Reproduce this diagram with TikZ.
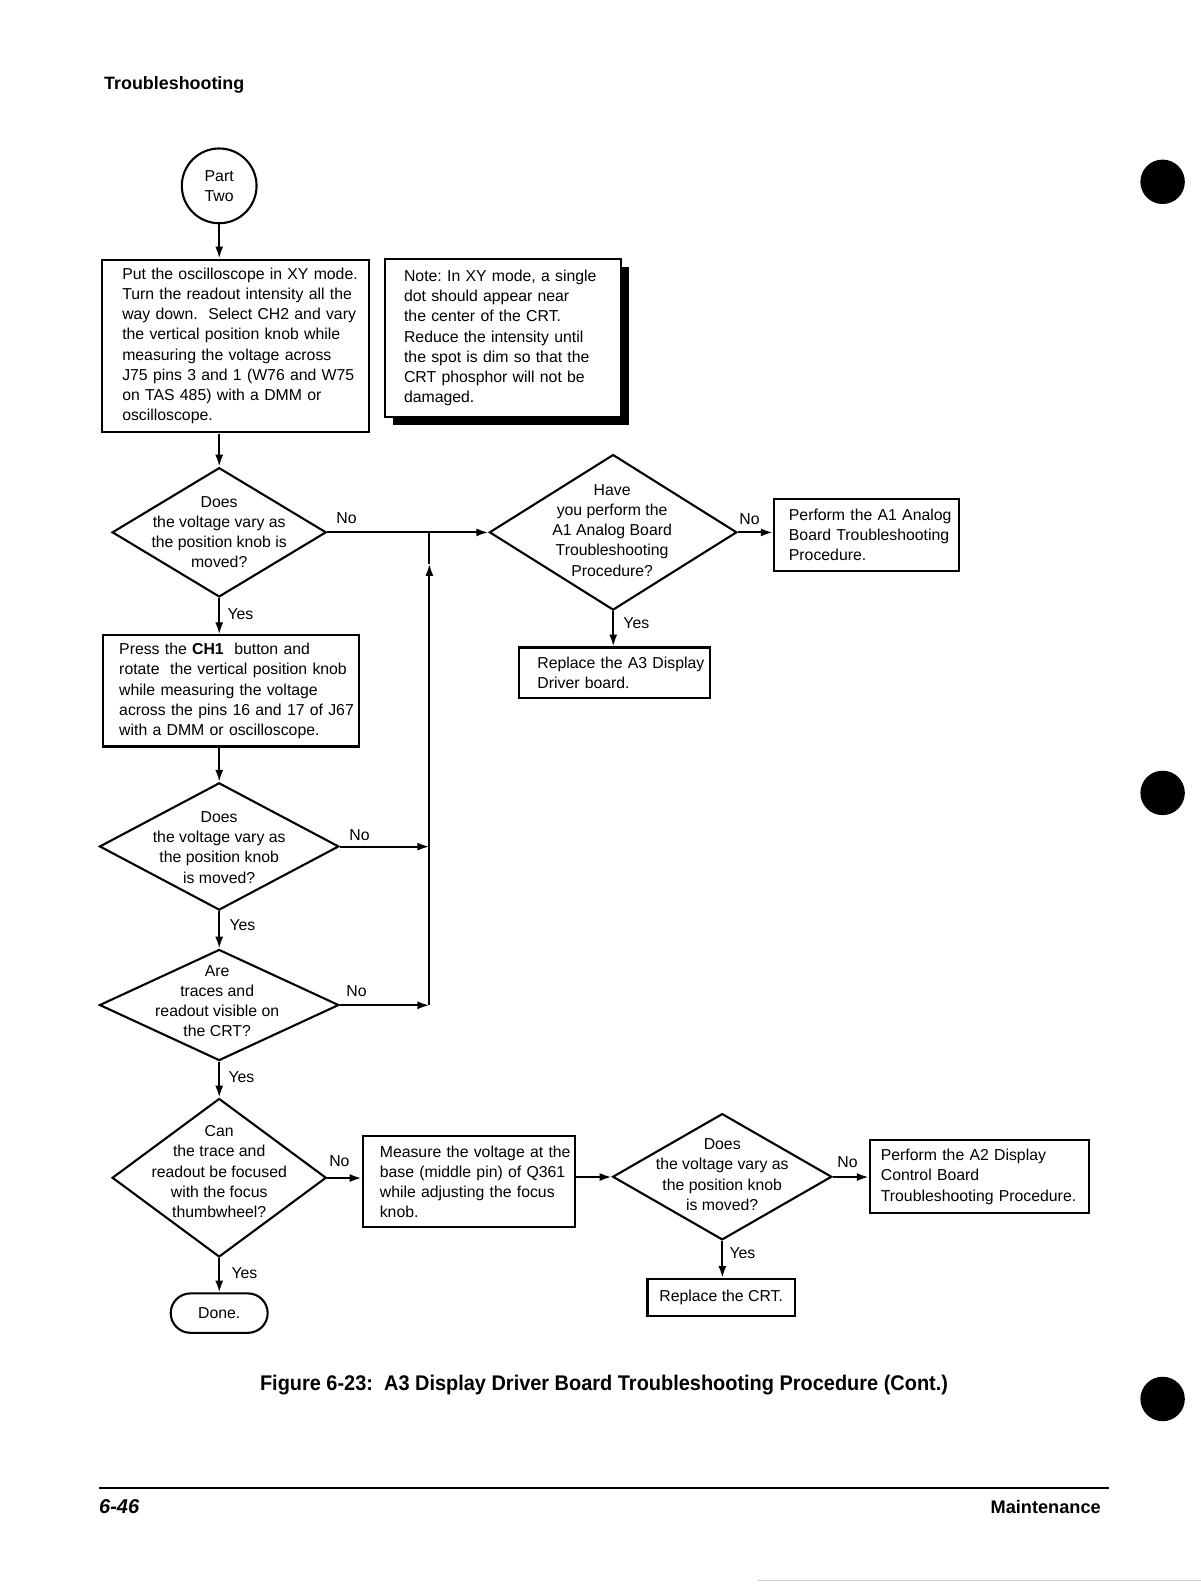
\documentclass[tikz,border=0pt]{standalone}
\usepackage{fontspec}
\setmainfont{Liberation Sans}
\usepackage{graphicx}
\usetikzlibrary{arrows.meta,shapes.geometric,shapes.misc,shadows}
\newcommand\fs{\fontsize{15.65}{20}\selectfont}
\newcommand\lne[1]{\mbox{#1}}
\frenchspacing
\hbadness=10000 \hfuzz=100pt
\begin{document}
\begin{tikzpicture}[x=1pt,y=-1pt,scale=1.0101,
  every node/.style={font=\fs, transform shape},
  ln/.style={line width=2.1pt},
  arr/.style={line width=2.1pt, -{Latex[length=12pt,width=8pt]}},
  box/.style={draw, line width=2.1pt, rectangle, align=left, inner ysep=0pt, anchor=north west},
  dia/.style={draw, line width=2.1pt, diamond, inner sep=0pt},
  dtxt/.style={align=center, inner sep=0pt},
  lbl/.style={inner sep=0pt}]
\useasboundingbox (0,0) rectangle (1189,1568.2);
% page furniture
\node[anchor=west, inner sep=0pt, font=\bfseries\fontsize{17.7}{20}\selectfont] (title) at (103,84) {Troubleshooting};
\fill (1151,180) circle (22pt);
\fill (1151,785) circle (22pt);
\fill (1151,1385) circle (22pt);
\node[inner sep=0pt, font=\bfseries\fontsize{21}{24}\selectfont] (cap) at (598,1371) {\scalebox{0.94}[1]{Figure 6-23:\ \ A3 Display Driver Board Troubleshooting Procedure (Cont.)}};
\draw[line width=2pt] (98,1473) -- (1098,1473);
\node[anchor=west, inner sep=0pt, font=\bfseries\itshape\fontsize{19.8}{22}\selectfont] (pg) at (98,1492) {6-46};
\node[anchor=east, inner sep=0pt, font=\bfseries\fontsize{18}{20}\selectfont] (mt) at (1090,1492) {Maintenance};
\draw[gray!40, line width=0.8pt] (750,1565) -- (1189,1565);

% nodes
\node[draw, circle, line width=2.1pt, minimum size=74pt, align=center, inner sep=0pt] (c0) at (217,184) {Part\\Two};
\node[box, text width=224pt, inner xsep=20pt, minimum height=171pt] (b1) at (100,256)
 {\lne{Put the oscilloscope in XY mode.}\\\lne{Turn the readout intensity all the}\\\lne{way down.\ \ Select CH2 and vary}\\\lne{the vertical position knob while}\\\lne{measuring the voltage across}\\\lne{J75 pins 3 and 1 (W76 and W75}\\\lne{on TAS 485) with a DMM or}\\\lne{oscilloscope.}};
\node[box, fill=white, text width=196pt, inner xsep=19pt, minimum height=157pt,
  drop shadow={shadow xshift=8pt, shadow yshift=-8pt, fill=black, opacity=1}] (note) at (380,255)
 {\lne{Note: In XY mode, a single}\\\lne{dot should appear near}\\\lne{the center of the CRT.}\\\lne{Reduce the intensity until}\\\lne{the spot is dim so that the}\\\lne{CRT phosphor will not be}\\\lne{damaged.}};

\node[dia, minimum width=212pt, minimum height=128pt] (d1) at (217,527) {};
\node[dtxt] (d1t) at (217,527) {Does\\the voltage vary as\\the position knob is\\moved?};

\node[dia, minimum width=245pt, minimum height=154pt] (d2) at (607,527) {};
\node[dtxt] (d2t) at (606,525) {Have\\you perform the\\A1 Analog Board\\Troubleshooting\\Procedure?};

\node[box, text width=153pt, inner xsep=15pt, minimum height=71pt] (a1) at (765,493)
 {\lne{Perform the A1 Analog}\\\lne{Board Troubleshooting}\\\lne{Procedure.}};
\node[box, text width=153pt, inner xsep=18pt, minimum height=50pt] (r3) at (513,640)
 {\lne{Replace the A3 Display}\\\lne{Driver board.}};

\node[box, text width=221pt, inner xsep=16pt, minimum height=110pt] (b2) at (101,628)
 {\lne{Press the \textbf{CH1}\ \ button and}\\\lne{rotate\ \ the vertical position knob}\\\lne{while measuring the voltage}\\\lne{across the pins 16 and 17 of J67}\\\lne{with a DMM or oscilloscope.}};

\node[dia, minimum width=237pt, minimum height=126pt] (d3) at (217,838) {};
\node[dtxt] (d3t) at (217,839) {Does\\the voltage vary as\\the position knob\\is moved?};

\node[dia, minimum width=237pt, minimum height=110pt] (d4) at (217,995) {};
\node[dtxt] (d4t) at (215,991) {Are\\traces and\\readout visible on\\the CRT?};

\node[dia, minimum width=212pt, minimum height=157pt] (d5) at (217,1166) {};
\node[dtxt] (d5t) at (217,1160) {Can\\the trace and\\readout be focused\\with the focus\\thumbwheel?};

\node[box, text width=176pt, inner xsep=17pt, minimum height=90pt] (m) at (358,1124)
 {\lne{Measure the voltage at the}\\\lne{base (middle pin) of Q361}\\\lne{while adjusting the focus}\\\lne{knob.}};

\node[dia, minimum width=217pt, minimum height=125pt] (d6) at (715,1165) {};
\node[dtxt] (d6t) at (715,1163) {Does\\the voltage vary as\\the position knob\\is moved?};

\node[box, text width=195pt, inner xsep=11pt, minimum height=72pt] (a2) at (860,1128)
 {\lne{Perform the A2 Display}\\\lne{Control Board}\\\lne{Troubleshooting Procedure.}};
\node[box, align=center, inner xsep=0pt, minimum width=146pt, minimum height=37pt] (crt) at (640,1265) {Replace the CRT.};

\node[draw, rounded rectangle, line width=2.1pt, minimum width=96pt, minimum height=39pt, inner sep=0pt] (done) at (217,1300) {Done.};

% junction points
\coordinate (jt) at (425,527);
\coordinate (ja) at (425,558);
\coordinate (j3) at (425,838);
\coordinate (jb) at (425,995);

% labels
\node[lbl] (l1) at (343,513) {No};
\node[lbl] (l2) at (742,514) {No};
\node[lbl] (l3) at (630,617) {Yes};
\node[lbl] (l4) at (238,608) {Yes};
\node[lbl] (l5) at (356,827) {No};
\node[lbl] (l6) at (240,916) {Yes};
\node[lbl] (l7) at (353,981) {No};
\node[lbl] (l8) at (239,1066) {Yes};
\node[lbl] (l9) at (336,1150) {No};
\node[lbl] (l10) at (839,1151) {No};
\node[lbl] (l11) at (735,1241) {Yes};
\node[lbl] (l12) at (242,1260) {Yes};

% connectors
\draw[arr] (c0.south) -- (c0.south |- b1.north);
\draw[arr] (d1.north |- b1.south) -- (d1.north);
\draw[arr] (d1.east) -- (d2.west);
\draw[arr] (d2.east) -- (d2.east -| a1.west);
\draw[arr] (d2.south) -- (d2.south |- r3.north);
\draw[arr] (d1.south) -- (d1.south |- b2.north);
\draw[arr] (d3.north |- b2.south) -- (d3.north);
\draw[arr] (d3.east) -- (j3);
\draw[arr] (d3.south) -- (d4.north);
\draw[arr] (d4.east) -- (jb);
\draw[arr] (jb) -- (ja);
\draw[ln] (ja) -- (jt);
\draw[arr] (d4.south) -- (d5.north);
\draw[arr] (d5.east) -- (d5.east -| m.west);
\draw[arr] (d6.west -| m.east) -- (d6.west);
\draw[arr] (d6.east) -- (d6.east -| a2.west);
\draw[arr] (d6.south) -- (d6.south |- crt.north);
\draw[arr] (d5.south) -- (done.north);
\end{tikzpicture}
\end{document}
